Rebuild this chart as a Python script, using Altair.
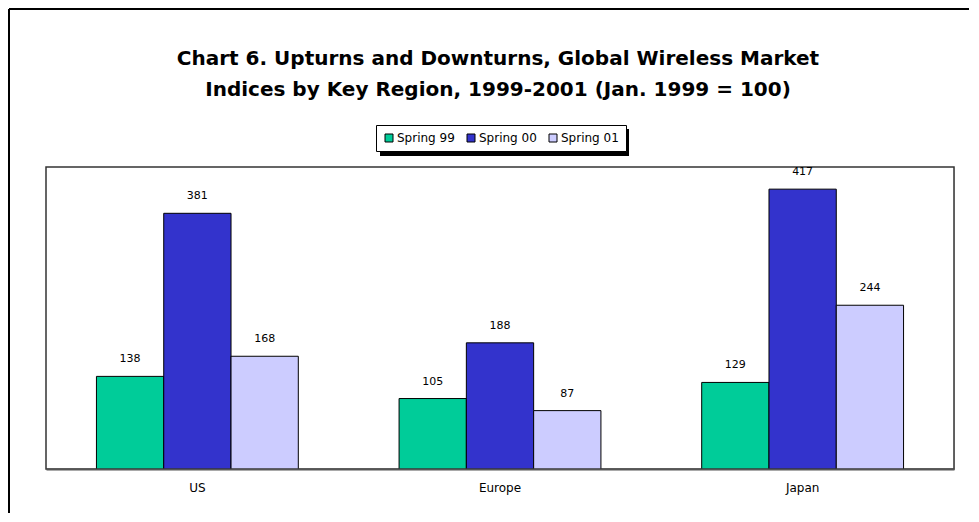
import altair as alt
import pandas as pd

regions = ["US", "Europe", "Japan"]
series = ["Spring 99", "Spring 00", "Spring 01"]
spring99 = [138, 105, 129]
spring00 = [381, 188, 417]
spring01 = [168, 87, 244]
colors = ["#00CC99", "#3333CC", "#CCCCFF"]
title_line1 = "Chart 6. Upturns and Downturns, Global Wireless Market"
title_line2 = "Indices by Key Region, 1999-2001 (Jan. 1999 = 100)"

rows = []
for i, r in enumerate(regions):
    for s, vals in zip(series, [spring99, spring00, spring01]):
        rows.append({"Region": r, "Series": s, "Value": vals[i]})
df = pd.DataFrame(rows)

FONT = "DejaVu Sans"
W, H = 908, 302
LX, LY, LW, LH = 330, -42, 249, 27

x_enc = alt.X("Region:N", sort=regions,
              scale=alt.Scale(paddingInner=0.333, paddingOuter=0.1667),
              axis=alt.Axis(title=None, ticks=False, labelAngle=0, labelPadding=13,
                            labelFont=FONT, labelFontSize=12, labelColor="black",
                            domainColor="#555555", domainWidth=2, zindex=1))
xo_enc = alt.XOffset("Series:N", sort=series, scale=alt.Scale(paddingInner=0, paddingOuter=0))
y_enc = alt.Y("Value:Q", scale=alt.Scale(domain=[0, 450], nice=False), axis=None)

bars = alt.Chart(df).mark_bar(stroke="black", strokeWidth=1).encode(
    x=x_enc, xOffset=xo_enc, y=y_enc,
    color=alt.Color("Series:N", sort=series,
                    scale=alt.Scale(domain=series, range=colors),
                    legend=alt.Legend(title=None, orient="none", direction="horizontal",
                                      legendX=LX, legendY=LY,
                                      symbolType="square", symbolSize=64,
                                      symbolStrokeColor="black", symbolStrokeWidth=1,
                                      labelFont=FONT, labelFontSize=12, labelColor="black",
                                      labelOffset=2, columnPadding=10, padding=7,
                                      strokeColor="black", fillColor="white")),
)

labels = alt.Chart(df).mark_text(font=FONT, fontSize=11, color="black",
                                 baseline="middle", dy=-17).encode(
    x=x_enc, xOffset=xo_enc, y=y_enc, text="Value:Q"
)

one = alt.Data(values=[{}])
frame = alt.Chart(one).mark_rect(fill="white", stroke="#333333", strokeWidth=1.5).encode(
    x=alt.value(0), x2=alt.value(W), y=alt.value(0), y2=alt.value(H)
)
shadow = alt.Chart(one).mark_rect(color="black").encode(
    x=alt.value(LX + 4), x2=alt.value(LX + LW + 4),
    y=alt.value(LY + 4), y2=alt.value(LY + LH + 4)
)
border_v = alt.Chart(one).mark_rule(color="black", strokeWidth=2).encode(
    x=alt.value(-37), y=alt.value(-158), y2=alt.value(H + 44)
)
border_h = alt.Chart(one).mark_rule(color="black", strokeWidth=2).encode(
    x=alt.value(-37), x2=alt.value(W + 15), y=alt.value(-158)
)
t1 = alt.Chart(one).mark_text(font=FONT, fontSize=20, fontWeight="bold", color="black",
                              align="center", baseline="middle").encode(
    x=alt.value(452), y=alt.value(-108), text=alt.value(title_line1)
)
t2 = alt.Chart(one).mark_text(font=FONT, fontSize=20, fontWeight="bold", color="black",
                              align="center", baseline="middle").encode(
    x=alt.value(452), y=alt.value(-77), text=alt.value(title_line2)
)

chart = alt.layer(border_v, border_h, t1, t2, frame, shadow, bars, labels).properties(
    width=W, height=H,
    autosize=alt.AutoSizeParams(type="none"),
    padding={"left": 38, "top": 159, "right": 15, "bottom": 44},
).configure_view(strokeWidth=0).configure(background="white")

chart.save("out.html", embed_options={"renderer": "svg", "actions": False})
